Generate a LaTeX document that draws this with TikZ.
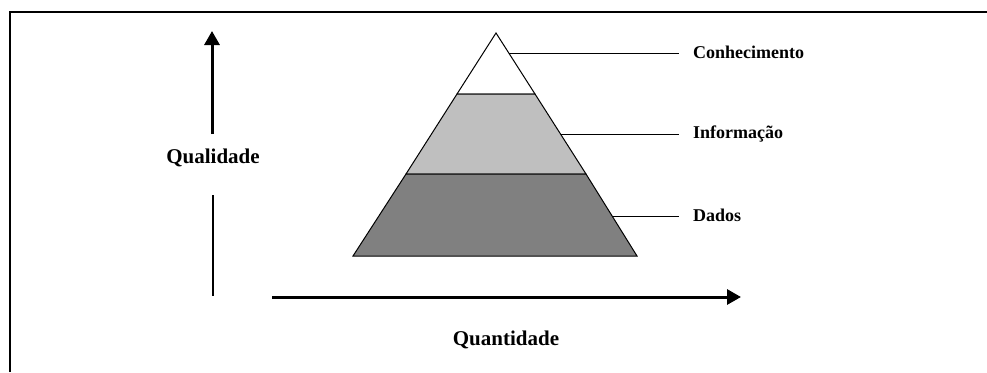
\documentclass[tikz,border=0pt]{standalone}
\usepackage{fontspec}
\setmainfont{Liberation Serif}
\usetikzlibrary{arrows.meta}
\begin{document}
\begin{tikzpicture}[x=1pt,y=-1pt,
  lbl/.style={font=\fontsize{18}{20}\selectfont\bfseries,inner sep=0pt},
  axlbl/.style={font=\fontsize{21}{24}\selectfont\bfseries,inner sep=0pt},
  axarrow/.style={line width=3pt,-{Triangle[length=14pt,width=15pt]}},
  leader/.style={line width=1pt},
  band/.style={draw=black,line width=1pt}]
\useasboundingbox (0,0) rectangle (987,372);
% frame
\draw[line width=1.3pt] (10,372) -- (10,12) -- (987,12);
% pyramid points
\coordinate (apex) at (496,33);
\coordinate (bl) at (353,256);
\coordinate (br) at (637,256);
\coordinate (l1) at (457,94);
\coordinate (r1) at (535,94);
\coordinate (l2) at (406,174);
\coordinate (r2) at (586,174);
% bands
\filldraw[band,fill=white] (apex) -- (r1) -- (l1) -- cycle;
\filldraw[band,fill=black!25] (l1) -- (r1) -- (r2) -- (l2) -- cycle;
\filldraw[band,fill=black!50] (l2) -- (r2) -- (br) -- (bl) -- cycle;
% labels
\node[lbl,anchor=west] (conh) at (693,52) {Conhecimento};
\node[lbl,anchor=west] (info) at (693,134) {Informação};
\node[lbl,anchor=west] (dados) at (693,215) {Dados};
\coordinate (p1) at (509,53);
\coordinate (p2) at (561,134);
\coordinate (p3) at (613,216);
\coordinate (e1) at (679,53);
\coordinate (e2) at (679,134);
\coordinate (e3) at (679,216);
\draw[leader] (p1) -- (e1);
\draw[leader] (p2) -- (e2);
\draw[leader] (p3) -- (e3);
% axes
\node[axlbl] (qual) at (213,158) {Qualidade};
\node[axlbl] (quant) at (506,340) {Quantidade};
\coordinate (qa0) at (212,134);
\coordinate (qa1) at (212,31);
\draw[axarrow] (qa0) -- (qa1);
\coordinate (ql0) at (213,195);
\coordinate (ql1) at (213,296);
\draw[line width=1.6pt] (ql0) -- (ql1);
\coordinate (ha0) at (272,297);
\coordinate (ha1) at (741,297);
\draw[axarrow] (ha0) -- (ha1);
\end{tikzpicture}
\end{document}
